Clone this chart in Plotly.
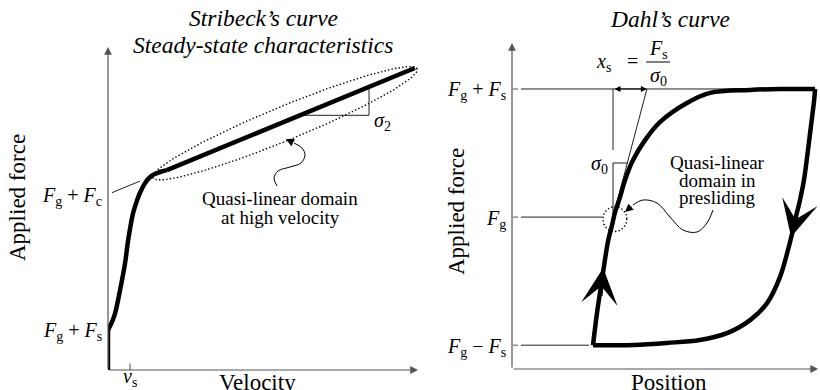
import numpy as np
import plotly.graph_objects as go

# ---------------- data ----------------
# Stribeck steady-state characteristic (velocity, applied force), arbitrary units
stribeck_v = [0.00, 0.00]
stribeck_f = [0.00, 1.24]
stribeck_knee_v = [0.00, 0.13, 0.23, 0.39, 0.55, 0.65, 0.81, 0.94, 1.03, 1.16, 1.29, 1.45, 1.68, 1.90]
stribeck_knee_f = [1.24, 1.49, 1.76, 2.48, 3.31, 4.02, 4.86, 5.26, 5.48, 5.73, 5.91, 6.04, 6.13, 6.19]
stribeck_lin_v = [1.90, 9.90]
F_S_LEFT = 1.24      # Fg + Fs
F_C_LEFT = 5.44      # Fg + Fc (intercept of the viscous line)
SIGMA2 = 0.395       # slope of the high-velocity line
V_S = 0.71           # Stribeck velocity
sigma2_tri_v = [6.19, 8.42]

# Dahl hysteresis loop (position, applied force)
F_G = 4.66
F_S = 3.93
dahl_up_x = [2.63, 2.76, 2.92, 3.12, 3.25, 3.34, 3.51, 3.67, 3.93, 4.32, 4.81, 5.68, 6.43, 7.73, 8.70, 9.84]
dahl_up_f = [0.73, 1.72, 2.73, 3.93, 4.42, 4.79, 5.28, 5.80, 6.41, 7.02, 7.58, 8.16, 8.47, 8.56, 8.59, 8.59]
dahl_down_x = [9.84, 9.81, 9.71, 9.61, 9.48, 9.35, 9.25, 9.12, 8.96, 8.70, 8.28, 7.73, 6.98, 6.10, 5.03, 3.93, 2.63]
dahl_down_f = [8.59, 8.25, 7.48, 6.72, 5.80, 5.18, 4.79, 4.26, 3.65, 2.82, 2.02, 1.50, 1.10, 0.89, 0.80, 0.74, 0.73]
X0_DAHL = 3.28       # position where the rising branch crosses Fg
X_S = 1.10           # presliding displacement Fs / sigma0

# ---------------- layout geometry ----------------
W, H = 820, 390
LX = [108 / W, 418 / W]
LY = [20 / H, 343 / H]
RX = [512 / W, 1.0]
RY = [21 / H, 347 / H]
SX_L = (LX[1] - LX[0]) * W / 10.0
SY_L = (LY[1] - LY[0]) * H / 10.0
SX_R = (RX[1] - RX[0]) * W / 10.0
SY_R = (RY[1] - RY[0]) * H / 10.0

SERIF = "Liberation Serif"
INK = "#000000"
THIN = "#222222"
AXC = "#555555"
THICK = 4.5
TITLE_SZ = 23.5
AXIS_SZ = 23
TICK_SZ = 20
NOTE_SZ = 19

fig = go.Figure()


def line(x, y, xa="x", ya="y", width=1.0, color=THIN, dash=None, shape="linear"):
    fig.add_trace(go.Scatter(x=x, y=y, xaxis=xa, yaxis=ya, mode="lines",
                             line=dict(color=color, width=width, dash=dash, shape=shape,
                                       smoothing=1.0 if shape == "spline" else None),
                             hoverinfo="skip", showlegend=False))


def ellipse(cx, cy, a_px, b_px, ang_deg, sx, sy, n=160):
    t = np.linspace(0, 2 * np.pi, n)
    th = np.radians(ang_deg)
    dx = a_px * np.cos(t) * np.cos(th) - b_px * np.sin(t) * np.sin(th)
    dy = a_px * np.cos(t) * np.sin(th) + b_px * np.sin(t) * np.cos(th)
    return cx + dx / sx, cy + dy / sy


def arrow(x, y, ax, ay, xa="x", ya="y", width=1.0, size=1.0, head=2, color=INK, side="end"):
    fig.add_annotation(x=x, y=y, ax=ax, ay=ay, xref=xa, yref=ya, axref=xa, ayref=ya,
                       showarrow=True, arrowhead=head, startarrowhead=head, arrowsize=size,
                       startarrowsize=size, arrowwidth=width, arrowcolor=color,
                       arrowside=side, standoff=0, startstandoff=0, text="")


def txt(px, py, s, size=NOTE_SZ, xanchor="center", yanchor="middle", angle=0):
    fig.add_annotation(x=px / W, y=1 - py / H, xref="paper", yref="paper", text=s,
                       showarrow=False, xanchor=xanchor, yanchor=yanchor, textangle=angle,
                       font=dict(family=SERIF, size=size, color=INK))


def txt_data(x, y, s, xa, ya, size=TICK_SZ, xanchor="center", yanchor="middle", xshift=0, yshift=0):
    fig.add_annotation(x=x, y=y, xref=xa, yref=ya, text=s, showarrow=False,
                       xanchor=xanchor, yanchor=yanchor, xshift=xshift, yshift=yshift,
                       font=dict(family=SERIF, size=size, color=INK))


def force_label(sign, sub):
    return "<i>F</i><sub>g</sub>&nbsp;" + sign + "&nbsp;<i>F</i><sub>" + sub + "</sub>"


# ================= Stribeck panel =================
# axes
arrow(10, 0, 0, 0, "x", "y", width=1.2, size=1.3, head=2, color=AXC)
arrow(0, 10, 0, 0, "x", "y", width=1.2, size=1.3, head=2, color=AXC)

# ellipse around the quasi-linear high-velocity domain
ex, ey = ellipse(5.71, 7.64, 143, 17, np.degrees(np.arctan(SIGMA2 * SY_L / SX_L)), SX_L, SY_L)
line(list(ex), list(ey), "x", "y", width=1.4, color=INK, dash="1.4px,2.2px")

# extrapolation of the viscous line to zero velocity
ext_v = [0.13, 1.03]
line(ext_v, [F_C_LEFT + SIGMA2 * v for v in ext_v], "x", "y", width=1.0)

# slope triangle
t0, t1 = sigma2_tri_v
line([t0, t1, t1], [F_C_LEFT + SIGMA2 * t0, F_C_LEFT + SIGMA2 * t0, F_C_LEFT + SIGMA2 * t1],
     "x", "y", width=1.0)

# v_s tick
line([V_S, V_S], [0, 0.2], "x", "y", width=1.0, color=AXC)

# thick characteristic
line(stribeck_v, stribeck_f, "x", "y", width=THICK, color=INK)
line(stribeck_knee_v, stribeck_knee_f, "x", "y", width=THICK, color=INK, shape="spline")
line(stribeck_lin_v, [F_C_LEFT + SIGMA2 * v for v in stribeck_lin_v], "x", "y",
     width=THICK, color=INK)

# curly pointer to the ellipse
curl_l_x = [(p - 108) / SX_L for p in (277, 274, 278, 290, 301, 305, 302, 294)]
curl_l_y = [(370 - p) / SY_L for p in (186, 178, 171, 167, 163, 155, 148, 143)]
line(curl_l_x, curl_l_y, "x", "y", width=1.0, color=INK, shape="spline")
arrow((286 - 108) / SX_L, (370 - 139) / SY_L, curl_l_x[-1], curl_l_y[-1], "x", "y",
      width=1.0, size=1.6, head=2)

# labels
txt(263, 18, "<i>Stribeck’s curve</i>", size=TITLE_SZ)
txt(263, 45, "<i>Steady-state characteristics</i>", size=TITLE_SZ)
txt(280, 198, "Quasi-linear domain")
txt(280, 217, "at high velocity")
txt_data(t1, 7.68, "<i>σ</i><sub>2</sub>", "x", "y", xanchor="left", xshift=3)
txt_data(0, F_C_LEFT, force_label("+", "c"), "x domain", "y",
         xanchor="right", xshift=-4, yshift=-2)
txt_data(0, F_S_LEFT, force_label("+", "s"), "x domain", "y",
         xanchor="right", xshift=-4, yshift=-2)
txt(130, 377, "<i>v</i><sub>s</sub>", size=TICK_SZ)
txt(257, 382, "Velocity", size=AXIS_SZ)
txt(17, 198, "Applied force", size=AXIS_SZ, angle=-90)

# ================= Dahl panel =================
arrow(9.94, 0, 0, 0, "x2", "y2", width=1.2, size=1.3, head=2, color=AXC)
arrow(0, 10, 0, 0, "x2", "y2", width=1.2, size=1.3, head=2, color=AXC)

levels = [F_G + F_S, F_G, F_G - F_S]
ends = [7.6, 2.95, 2.50]
for lv, xe in zip(levels, ends):
    line([0.03, 0.2], [lv, lv], "x2", "y2", width=1.0, color=AXC)
    line([0.29, xe], [lv, lv], "x2", "y2", width=1.0, color=THIN)

# tangent at Fg with slope sigma0 and its construction lines
tri_top = (369 - 163) / SY_R
line([X0_DAHL, X0_DAHL + X_S], [F_G, F_G + F_S], "x2", "y2", width=1.0)
line([X0_DAHL, X0_DAHL, X0_DAHL + X_S * (tri_top - F_G) / F_S], [F_G, tri_top, tri_top],
     "x2", "y2", width=1.0)
line([X0_DAHL, X0_DAHL], [(369 - 150) / SY_R, F_G + F_S], "x2", "y2", width=1.0)
arrow(X0_DAHL + X_S, F_G + F_S, X0_DAHL, F_G + F_S, "x2", "y2", width=1.0, size=1.2,
      head=2, side="end+start")

# dotted circle around the presliding domain
cx, cy = ellipse(3.34, 4.60, 12, 12.5, 0, SX_R, SY_R)
line(list(cx), list(cy), "x2", "y2", width=1.4, color=INK, dash="1.4px,2.2px")

# hysteresis loop
line(dahl_up_x, dahl_up_f, "x2", "y2", width=THICK, color=INK, shape="spline")
line(dahl_down_x, dahl_down_f, "x2", "y2", width=THICK, color=INK, shape="spline")
arrow(2.96, 3.10, 2.86, 2.20, "x2", "y2", width=THICK, size=1.35, head=3)
arrow(9.06, 4.05, 9.22, 4.65, "x2", "y2", width=THICK, size=1.35, head=3)

# curly pointer to the circle
curl_r_x = [(p - 512) / SX_R for p in (713, 707, 697, 683, 670, 657, 643, 633)]
curl_r_y = [(369 - p) / SY_R for p in (210, 223, 232, 230, 217, 203, 200, 205)]
line(curl_r_x, curl_r_y, "x2", "y2", width=1.0, color=INK, shape="spline")
arrow((625 - 512) / SX_R, (369 - 212) / SY_R, curl_r_x[-1], curl_r_y[-1], "x2", "y2",
      width=1.0, size=1.6, head=2)

# labels
txt(670, 19, "<i>Dahl’s curve</i>", size=TITLE_SZ)
txt(603, 63, "<i>x</i><sub>s</sub>", size=TICK_SZ)
txt(632, 61, "=", size=TICK_SZ)
txt(658, 49, "<i>F</i><sub>s</sub>", size=TICK_SZ)
txt(658, 77, "<i>σ</i><sub>0</sub>", size=TICK_SZ)
fig.add_shape(type="line", xref="paper", yref="paper", x0=646 / W, x1=670 / W,
              y0=1 - 62 / H, y1=1 - 62 / H, line=dict(color=INK, width=1))
txt(610, 164, "<i>σ</i><sub>0</sub>", size=TICK_SZ, xanchor="right")
txt(717, 162, "Quasi-linear")
txt(717, 180, "domain in")
txt(717, 197, "presliding")
tick_txt = [force_label("+", "s"), "<i>F</i><sub>g</sub>", force_label("−", "s")]
for lv, s in zip(levels, tick_txt):
    txt_data(0, lv, s, "x2 domain", "y2", xanchor="right", xshift=-4, yshift=-2)
txt(669, 382, "Position", size=AXIS_SZ)
txt(457, 212, "Applied force", size=AXIS_SZ, angle=-90)

# ---------------- axes ----------------
hidden = dict(visible=False, fixedrange=True)
fig.update_layout(
    width=W, height=H, margin=dict(l=0, r=0, t=0, b=0),
    paper_bgcolor="white", plot_bgcolor="white", showlegend=False,
    xaxis=dict(domain=LX, range=[0, 10], **hidden),
    yaxis=dict(domain=LY, range=[0, 10], **hidden),
    xaxis2=dict(domain=RX, range=[0, 10], anchor="y2", **hidden),
    yaxis2=dict(domain=RY, range=[0, 10], anchor="x2", **hidden),
)
for tr in fig.data:
    tr.update(cliponaxis=False)

fig.write_html("out.html")
